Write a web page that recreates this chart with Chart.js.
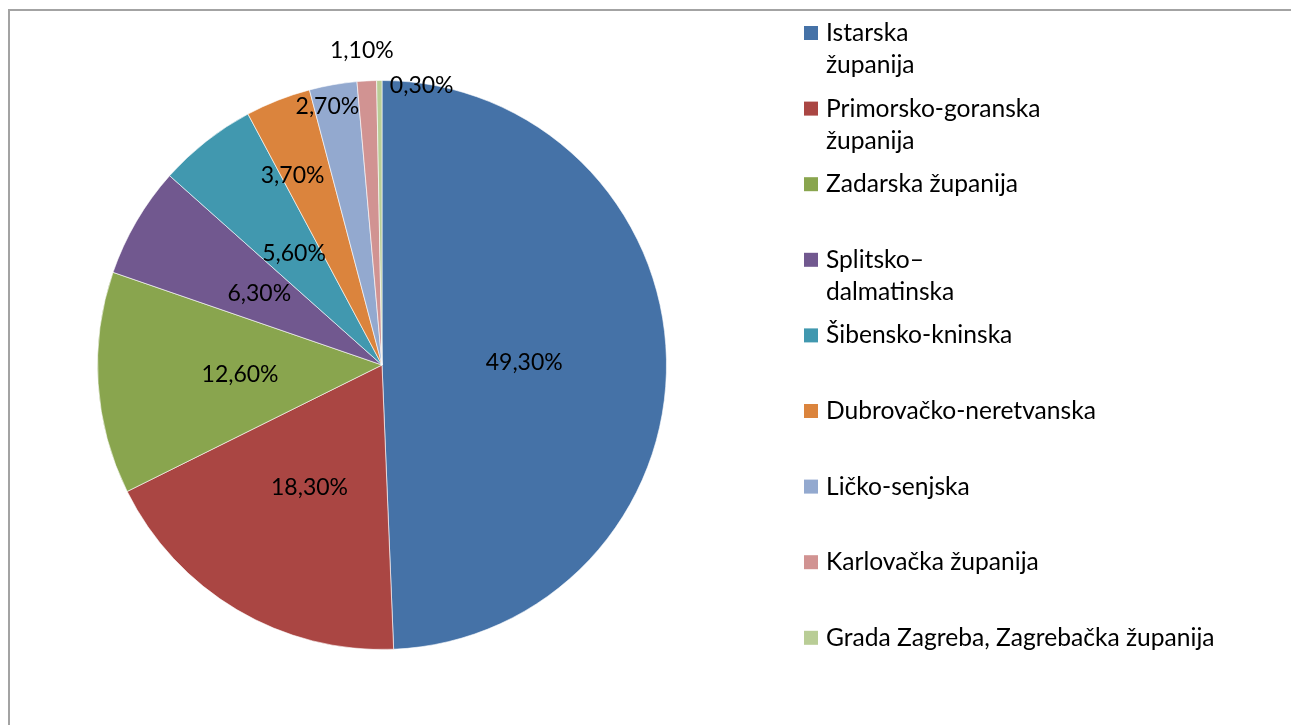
<!DOCTYPE html>
<html>
<head>
<meta charset="utf-8">
<script src="https://cdn.jsdelivr.net/npm/chart.js@4.4.0/dist/chart.umd.min.js"></script>
<style>
  html, body { margin: 0; padding: 0; background: #fff; overflow: hidden; }
  #frame { position: absolute; left: 8px; top: 9px; width: 2000px; height: 2000px;
           border-left: 2px solid #a3a3a3; border-top: 2px solid #a3a3a3; }
  #wrap { position: absolute; left: 0; top: 0; width: 1291px; height: 725px; }
</style>
</head>
<body>
<div id="frame"></div>
<div id="wrap"><canvas id="myChart"></canvas></div>
<script>
// podaci
var categories = [
    'Istarska\nžupanija',
    'Primorsko-goranska\nžupanija',
    'Zadarska županija',
    'Splitsko–\ndalmatinska',
    'Šibensko-kninska',
    'Dubrovačko-neretvanska',
    'Ličko-senjska',
    'Karlovačka županija',
    'Grada Zagreba, Zagrebačka županija'
];
var shares = [49.3, 18.3, 12.6, 6.3, 5.6, 3.7, 2.7, 1.1, 0.3];
var colorsChart = ['#4572A7', '#AA4643', '#89A54E', '#71588F', '#4198AF', '#DB843D', '#93A9CF', '#D19392', '#B9CD96'];

// where each data label sits (fraction of radius, angle shift in degrees)
var labelRadius = [0.5, 0.5, 0.5, 0.5, 0.5, 0.737, 0.93, 1.11, 0.995];
var labelShift = [0, 0, 0, 0, 0, -3.8, -2, -0.6, 8.6];

var fontFamily = 'Lato, "Open Sans", sans-serif';

function pct(v) {
    return v.toFixed(2).replace('.', ',') + '%';
}

const sliceLabels = {
    id: 'sliceLabels',
    afterDatasetsDraw: function (chart) {
        var ctx = chart.ctx;
        var meta = chart.getDatasetMeta(0);
        ctx.save();
        ctx.font = '23px ' + fontFamily;
        ctx.fillStyle = '#000';
        ctx.textAlign = 'center';
        ctx.textBaseline = 'alphabetic';
        meta.data.forEach(function (arc, i) {
            var p = arc.getProps(['x', 'y', 'startAngle', 'endAngle', 'outerRadius'], true);
            var a = (p.startAngle + p.endAngle) / 2 + labelShift[i] * Math.PI / 180;
            var r = p.outerRadius * labelRadius[i];
            ctx.fillText(pct(chart.data.datasets[0].data[i]), p.x + Math.cos(a) * r, p.y + Math.sin(a) * r + 8);
        });
        ctx.restore();
    }
};

const sideLegend = {
    id: 'sideLegend',
    afterDraw: function (chart) {
        var ctx = chart.ctx;
        var labels = chart.data.labels;
        var bg = chart.data.datasets[0].backgroundColor;
        var top = 33, step = 75.6, lineH = 32;
        ctx.save();
        ctx.font = '24.6px ' + fontFamily;
        ctx.fillStyle = '#000';
        ctx.textAlign = 'left';
        ctx.textBaseline = 'alphabetic';
        labels.forEach(function (lab, i) {
            var y = top + i * step;
            ctx.fillStyle = bg[i];
            ctx.fillRect(804, y - 7, 14, 14);
            ctx.fillStyle = '#000';
            lab.split('\n').forEach(function (line, k) {
                ctx.fillText(line, 826, y + 8 + k * lineH);
            });
        });
        ctx.restore();
    }
};

var ctx = document.getElementById('myChart').getContext('2d');

new Chart(ctx, {
    type: 'pie',
    data: {
        labels: categories,
        datasets: [{
            data: shares,
            backgroundColor: colorsChart,
            borderColor: 'rgba(255,255,255,0.6)',
            borderWidth: 1
        }]
    },
    options: {
        responsive: true,
        maintainAspectRatio: false,
        animation: false,
        layout: {
            padding: { left: 97, right: 624, top: 80, bottom: 75 }
        },
        plugins: {
            legend: { display: false },
            tooltip: { enabled: false }
        }
    },
    plugins: [sliceLabels, sideLegend]
});
</script>
</body>
</html>
